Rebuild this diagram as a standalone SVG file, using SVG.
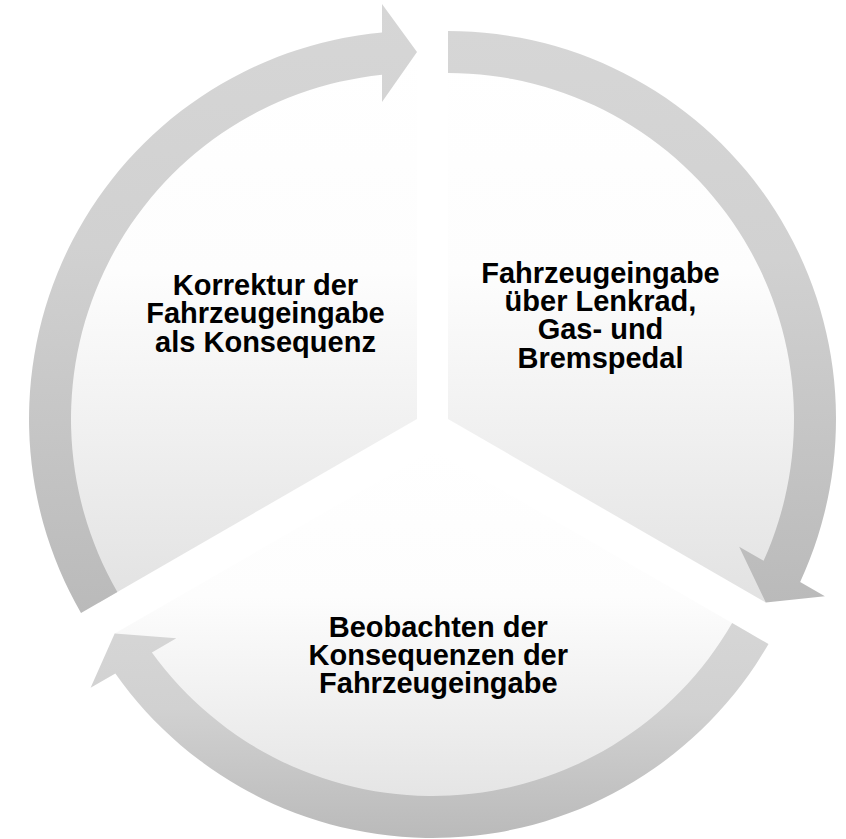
<svg xmlns="http://www.w3.org/2000/svg" width="846" height="839" viewBox="0 0 846 839">
  <defs>
    <linearGradient id="wedgeGrad" x1="0" y1="0" x2="0" y2="1">
      <stop offset="0" stop-color="#ffffff"/>
      <stop offset="0.4" stop-color="#fdfdfd"/>
      <stop offset="1" stop-color="#e2e2e2"/>
    </linearGradient>
    <linearGradient id="arrowGrad" x1="0" y1="0" x2="0" y2="1">
      <stop offset="0" stop-color="#d6d6d6"/>
      <stop offset="0.4" stop-color="#d1d1d1"/>
      <stop offset="1" stop-color="#bababa"/>
    </linearGradient>
  </defs>
  <style>
    .wedge { fill: url(#wedgeGrad); stroke: none; }
    .arrow { fill: url(#arrowGrad); stroke: none; }
    .label { font-family: "Liberation Sans", Arial, sans-serif; font-weight: bold; font-size: 29px; fill: #000000; text-anchor: middle; }
  </style>
  <rect width="846" height="839" fill="#ffffff"/>

  <g id="node-fahrzeugeingabe">
    <path class="wedge" d="M448,419 L448,52 A367,367 0 0 1 765.82,602.5 Z"/>
    <text class="label" x="600.5" y="283">Fahrzeugeingabe</text>
    <text class="label" x="600.5" y="311">über Lenkrad,</text>
    <text class="label" x="600.5" y="339.3">Gas- und</text>
    <text class="label" x="600.5" y="367.5">Bremspedal</text>
  </g>

  <g id="node-beobachten">
    <path class="wedge" d="M432.5,450 L750.32,633.5 A367,367 0 0 1 114.68,633.5 Z"/>
    <text class="label" x="438.3" y="636.7">Beobachten der</text>
    <text class="label" x="438.3" y="665">Konsequenzen der</text>
    <text class="label" x="438.3" y="693.3">Fahrzeugeingabe</text>
  </g>

  <g id="node-korrektur">
    <path class="wedge" d="M417,419 L99.18,602.5 A367,367 0 0 1 417,52 Z"/>
    <text class="label" x="265.5" y="295">Korrektur der</text>
    <text class="label" x="265.5" y="323.3">Fahrzeugeingabe</text>
    <text class="label" x="265.5" y="351.7">als Konsequenz</text>
  </g>

  <g id="connectors">
    <path class="arrow" d="M448,31 A388,388 0 0 1 800.15,581.9 L824.89,596.19 L765.82,602.5 L739.16,546.69 L763.6,560.8 A346,346 0 0 0 448,73 Z"/>
    <path class="arrow" d="M768.51,644 A388,388 0 0 1 115.35,673.52 L90.61,687.81 L114.68,633.5 L176.34,638.31 L151.9,652.42 A346,346 0 0 0 732.14,623 Z"/>
    <path class="arrow" d="M81,613 A388,388 0 0 1 382,32.58 L382,4 L417,52 L382,102 L382,74.78 A346,346 0 0 0 117.36,592 Z"/>
  </g>
</svg>
